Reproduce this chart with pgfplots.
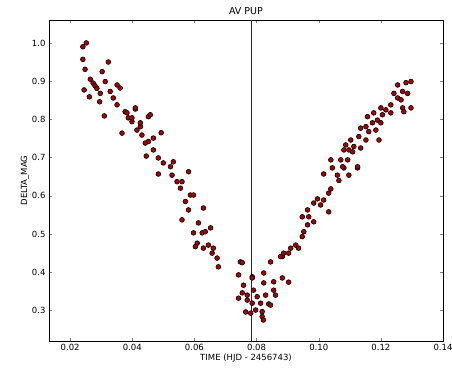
\documentclass[border=0pt]{standalone}
\usepackage{pgfplots}
\pgfplotsset{compat=1.18}
\usepackage{fontspec}
\setmainfont{DejaVu Sans}
\begin{document}
\begin{tikzpicture}
\useasboundingbox (-49pt,-32pt) rectangle (403pt,341pt);
\begin{axis}[
  at={(0pt,0pt)}, anchor=south west,
  width=394pt, height=321pt, scale only axis,
  xmin=0.0132, xmax=0.14, ymin=0.22, ymax=1.06,
  xtick={0.02,0.04,0.06,0.08,0.10,0.12,0.14},
  ytick={0.3,0.4,0.5,0.6,0.7,0.8,0.9,1.0},
  /pgf/number format/assume math mode=true,
  xticklabel style={font=\fontsize{8.5}{9}\selectfont, /pgf/number format/.cd, fixed, fixed zerofill, precision=2},
  yticklabel style={font=\fontsize{8.5}{9}\selectfont, /pgf/number format/.cd, fixed, fixed zerofill, precision=1},
  scaled x ticks=false, scaled y ticks=false,
  tick align=inside, major tick length=3pt,
  axis line style={line width=1pt},
  title={AV PUP}, title style={font=\fontsize{9.5}{10}\selectfont, yshift=-4pt},
  xlabel={TIME (HJD - 2456743)}, xlabel style={font=\fontsize{8.5}{10}\selectfont, yshift=4pt},
  ylabel={DELTA\_MAG}, ylabel style={font=\fontsize{8.5}{10}\selectfont, yshift=-4pt},
  clip=true,
]
\addplot[color=black!85, line width=1pt] coordinates {(0.0785,0.22) (0.0785,1.06)};
\addplot[only marks, mark=*, mark size=2.4pt, mark options={fill=red!65!black, draw=black, line width=0.6pt}] table {
x y
0.0252 1.000
0.0241 0.990
0.0241 0.957
0.0323 0.950
0.0248 0.931
0.0303 0.925
0.0265 0.905
0.0274 0.895
0.0280 0.888
0.0313 0.899
0.0351 0.890
0.0361 0.882
0.0245 0.877
0.0286 0.881
0.0297 0.868
0.0329 0.873
0.0262 0.859
0.0339 0.856
0.0295 0.846
0.0351 0.838
0.0410 0.827
0.0377 0.820
0.0310 0.809
0.0387 0.804
0.0399 0.794
0.0426 0.781
0.0452 0.807
0.0410 0.830
0.0383 0.817
0.0399 0.804
0.0426 0.791
0.0458 0.812
0.0367 0.764
0.0415 0.772
0.0431 0.759
0.0452 0.742
0.0468 0.751
0.0493 0.765
0.0442 0.738
0.0468 0.720
0.0445 0.704
0.0484 0.699
0.0500 0.686
0.0523 0.676
0.0532 0.689
0.0581 0.663
0.0484 0.657
0.0528 0.654
0.0544 0.637
0.0555 0.620
0.0587 0.602
0.0560 0.637
0.0597 0.602
0.0571 0.585
0.0581 0.563
0.0629 0.568
0.0560 0.537
0.0613 0.529
0.0652 0.516
0.0597 0.503
0.0625 0.503
0.0635 0.506
0.0609 0.476
0.0603 0.467
0.0629 0.463
0.0645 0.471
0.0661 0.463
0.0657 0.450
0.0673 0.437
0.0677 0.414
0.0748 0.427
0.0742 0.393
0.0786 0.388
0.0754 0.425
0.0845 0.427
0.0883 0.441
0.0903 0.450
0.0786 0.385
0.0823 0.398
0.0823 0.372
0.0855 0.375
0.0883 0.385
0.0903 0.374
0.0758 0.366
0.0754 0.346
0.0770 0.340
0.0790 0.353
0.0802 0.336
0.0829 0.340
0.0855 0.353
0.0861 0.340
0.0742 0.332
0.0770 0.327
0.0786 0.319
0.0813 0.319
0.0839 0.317
0.0845 0.314
0.0797 0.301
0.0818 0.297
0.0765 0.296
0.0781 0.293
0.0818 0.284
0.0822 0.275
0.1109 0.715
0.1039 0.694
0.1071 0.694
0.1044 0.673
0.1081 0.673
0.1125 0.673
0.1016 0.657
0.1060 0.654
0.1097 0.654
0.1065 0.640
0.1039 0.618
0.1032 0.607
0.0996 0.592
0.1016 0.589
0.0984 0.581
0.1006 0.576
0.1032 0.558
0.0964 0.563
0.0947 0.545
0.0968 0.545
0.0984 0.532
0.0964 0.524
0.0952 0.506
0.0947 0.493
0.0926 0.471
0.0910 0.463
0.0887 0.450
0.0877 0.441
0.0935 0.463
0.1281 0.896
0.1297 0.899
0.1254 0.890
0.1270 0.873
0.1242 0.868
0.1286 0.868
0.1254 0.856
0.1265 0.851
0.1270 0.830
0.1297 0.830
0.1232 0.838
0.1216 0.825
0.1200 0.830
0.1177 0.817
0.1205 0.812
0.1232 0.817
0.1274 0.820
0.1157 0.807
0.1189 0.798
0.1173 0.791
0.1200 0.791
0.1152 0.781
0.1135 0.777
0.1184 0.772
0.1161 0.768
0.1129 0.755
0.1152 0.746
0.1103 0.746
0.1087 0.733
0.1113 0.729
0.1135 0.725
0.1194 0.746
0.1097 0.720
0.1081 0.720
0.1093 0.694
0.1125 0.676
0.1077 0.676
};
\end{axis}
\end{tikzpicture}
\end{document}
